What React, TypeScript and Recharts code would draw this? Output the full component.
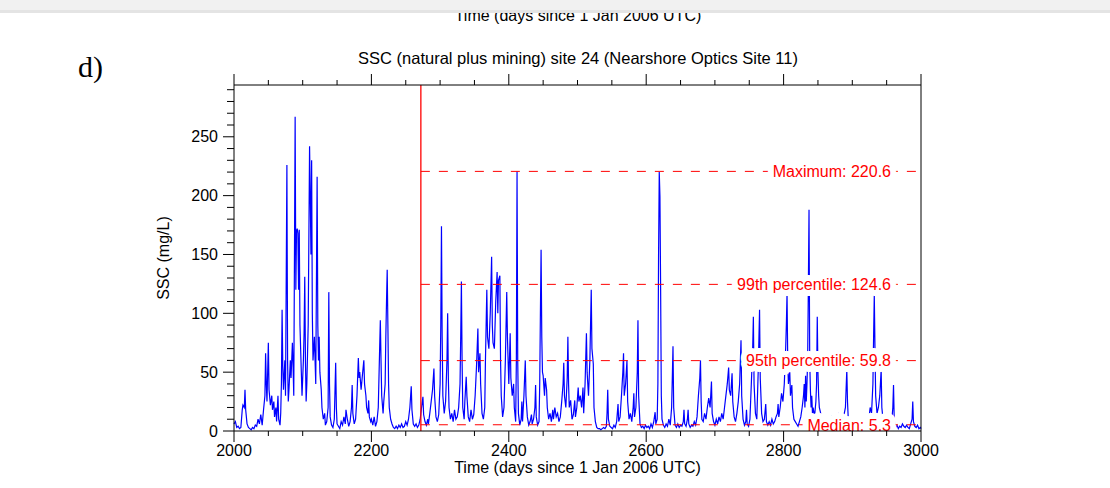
import { Line, LineChart, ReferenceLine, XAxis, YAxis } from 'recharts'

// SSC (mg/L) against day since 1 Jan 2006 as [day, ssc]
const ssc2000: [number, number][] = [
  [2000, 6], [2002, 8], [2004, 3], [2006, 4], [2008, 2], [2010, 3], [2012, 18], [2013, 22], [2015, 20], [2016, 35],
  [2017, 18], [2019, 6], [2021, 3], [2023, 2], [2025, 1], [2027, 3], [2029, 2], [2031, 5], [2033, 4], [2035, 10],
  [2037, 6], [2039, 14], [2041, 5], [2043, 18], [2045, 30], [2046, 66], [2047, 40], [2048, 25], [2050, 75], [2051, 35],
  [2053, 22], [2055, 30], [2056, 18], [2058, 25], [2059, 12], [2061, 20], [2062, 8], [2064, 30], [2065, 10], [2067, 5],
  [2068, 15], [2069, 40], [2070, 103], [2071, 55], [2072, 35], [2074, 60], [2075, 30], [2077, 226], [2078, 60], [2079, 25],
  [2080, 35], [2082, 60], [2083, 45], [2085, 75], [2086, 55], [2087, 30], [2089, 267], [2090, 120], [2091, 170], [2092, 172],
  [2093, 168], [2094, 120], [2095, 171], [2096, 90], [2098, 50], [2099, 30], [2101, 60], [2102, 83], [2103, 131], [2104, 60],
  [2105, 25], [2106, 40], [2108, 90], [2110, 242], [2111, 200], [2112, 150], [2113, 230], [2114, 100], [2115, 60], [2117, 80],
  [2119, 40], [2121, 216], [2122, 90], [2123, 60], [2124, 80], [2125, 50], [2127, 35], [2128, 20], [2130, 10], [2132, 15],
  [2133, 5], [2135, 8], [2137, 20], [2138, 118], [2139, 40], [2140, 12], [2142, 5], [2144, 3], [2146, 10], [2148, 58],
  [2149, 20], [2150, 6], [2152, 4], [2154, 2], [2156, 8], [2158, 5], [2160, 12], [2162, 6], [2163, 18], [2165, 10],
  [2167, 4], [2169, 8], [2171, 20], [2172, 39], [2173, 15], [2175, 6], [2177, 10], [2179, 30], [2181, 62], [2182, 45],
  [2183, 50], [2185, 35], [2187, 48], [2189, 60], [2190, 40], [2192, 30], [2193, 20], [2195, 15], [2196, 26], [2197, 12],
  [2199, 8],
]

const ssc2200: [number, number][] = [
  [2200, 10], [2202, 5], [2204, 12], [2206, 4], [2208, 8], [2210, 20], [2211, 45], [2212, 70], [2213, 94], [2214, 60],
  [2215, 30], [2217, 15], [2218, 25], [2220, 40], [2221, 80], [2222, 110], [2223, 137], [2224, 90], [2225, 40], [2226, 20],
  [2228, 10], [2230, 6], [2232, 3], [2234, 2], [2236, 4], [2238, 2], [2240, 5], [2242, 3], [2244, 6], [2246, 3],
  [2248, 4], [2250, 8], [2252, 5], [2254, 10], [2256, 20], [2258, 38], [2259, 18], [2261, 6], [2263, 4], [2265, 6],
  [2267, 3], [2269, 5], [2271, 10], [2273, 20], [2275, 29], [2276, 14], [2278, 8], [2280, 5], [2282, 10], [2283, 6],
  [2285, 15], [2287, 25], [2289, 35], [2291, 53], [2292, 30], [2294, 12], [2296, 8], [2298, 14], [2300, 40], [2301, 90],
  [2302, 174], [2303, 80], [2304, 30], [2306, 15], [2308, 25], [2310, 60], [2311, 100], [2312, 45], [2313, 20], [2315, 10],
  [2317, 15], [2319, 8], [2321, 18], [2323, 10], [2325, 12], [2327, 20], [2329, 40], [2330, 80], [2331, 127], [2332, 60],
  [2333, 20], [2335, 10], [2336, 25], [2338, 46], [2339, 30], [2341, 12], [2343, 8], [2345, 18], [2347, 10], [2349, 14],
  [2351, 30], [2353, 55], [2355, 87], [2356, 50], [2358, 66], [2359, 40], [2361, 15], [2363, 10], [2365, 20], [2366, 60],
  [2368, 120], [2369, 80], [2371, 70], [2373, 100], [2375, 148], [2376, 90], [2377, 75], [2379, 70], [2381, 110], [2383, 135],
  [2384, 100], [2385, 128], [2387, 132], [2388, 60], [2389, 30], [2391, 12], [2393, 20], [2395, 60], [2397, 118], [2398, 80],
  [2400, 40],
]

const ssc2400: [number, number][] = [
  [2402, 83], [2403, 45], [2405, 30], [2407, 40], [2408, 20], [2410, 8], [2411, 60], [2412, 220.6], [2413, 60], [2414, 15],
  [2416, 5], [2418, 10], [2419, 25], [2420, 8], [2422, 30], [2424, 60], [2425, 30], [2427, 12], [2429, 5], [2431, 8],
  [2433, 14], [2434, 6], [2436, 10], [2438, 20], [2439, 39], [2440, 12], [2442, 5], [2444, 8], [2445, 40], [2446, 100],
  [2447, 154], [2448, 80], [2449, 50], [2450, 47], [2452, 30], [2453, 45], [2455, 35], [2456, 20], [2458, 10], [2460, 15],
  [2462, 8], [2464, 18], [2465, 10], [2467, 20], [2469, 12], [2471, 15], [2473, 8], [2475, 12], [2477, 25], [2479, 40],
  [2480, 58], [2481, 30], [2483, 20], [2485, 45], [2486, 80], [2487, 40], [2488, 20], [2490, 26], [2492, 10], [2494, 14],
  [2496, 26], [2497, 12], [2499, 20], [2501, 37], [2502, 25], [2504, 30], [2506, 20], [2508, 37], [2509, 15], [2511, 40],
  [2513, 83], [2514, 50], [2516, 30], [2518, 60], [2520, 120], [2521, 70], [2523, 57], [2524, 20], [2526, 8], [2528, 3],
  [2530, 2], [2532, 2], [2534, 1], [2536, 2], [2538, 3], [2540, 2], [2542, 4], [2543, 15], [2544, 35], [2545, 10],
  [2547, 4], [2549, 3], [2551, 2], [2553, 5], [2555, 3], [2557, 8], [2559, 23], [2560, 8], [2562, 12], [2564, 30],
  [2566, 50], [2567, 66], [2568, 30], [2570, 40], [2572, 60], [2573, 25], [2575, 10], [2577, 15], [2579, 8], [2581, 20],
  [2582, 32], [2583, 12], [2585, 20], [2587, 50], [2588, 94], [2589, 30], [2591, 6], [2593, 3], [2595, 4], [2597, 2],
  [2599, 5],
]

const ssc2600: [number, number][] = [
  [2601, 3], [2603, 4], [2605, 2], [2607, 6], [2609, 3], [2611, 8], [2613, 16], [2614, 6], [2616, 10], [2617, 40],
  [2618, 150], [2619, 220], [2620, 199], [2621, 120], [2622, 30], [2623, 10], [2625, 5], [2627, 3], [2629, 6], [2631, 4],
  [2633, 10], [2635, 5], [2637, 20], [2638, 45], [2639, 72], [2640, 20], [2642, 5], [2644, 3], [2646, 6], [2648, 3],
  [2650, 5], [2652, 4], [2654, 8], [2655, 18], [2656, 6], [2658, 4], [2660, 10], [2661, 18], [2662, 6], [2664, 3],
  [2666, 5], [2668, 4], [2670, 8], [2672, 5], [2674, 12], [2676, 30], [2678, 45], [2679, 60], [2680, 25], [2681, 10],
  [2683, 8], [2685, 15], [2687, 10], [2689, 20], [2691, 28], [2693, 20], [2695, 42], [2696, 15], [2698, 8], [2700, 5],
  [2702, 10], [2704, 6], [2706, 12], [2708, 8], [2710, 15], [2712, 10], [2714, 20], [2716, 30], [2718, 40], [2720, 54],
  [2721, 35], [2723, 30], [2725, 49], [2726, 25], [2728, 12], [2730, 8], [2732, 15], [2734, 25], [2736, 40], [2738, 77],
  [2739, 30], [2741, 10], [2743, 5], [2745, 8], [2746, 18], [2747, 6], [2749, 4], [2751, 10], [2753, 40], [2755, 70],
  [2756, 97], [2757, 40], [2759, 15], [2761, 10], [2763, 50], [2765, 103], [2766, 45], [2768, 15], [2770, 8], [2772, 10],
  [2774, 23], [2775, 8], [2777, 5], [2779, 8], [2781, 5], [2783, 10], [2785, 6], [2787, 8], [2789, 12], [2791, 15],
  [2792, 23], [2793, 12], [2795, 20], [2797, 32], [2799, 25],
]

const ssc2800: [number, number][] = [
  [2801, 40], [2803, 70], [2804, 90], [2805, 117], [2806, 60], [2807, 40], [2809, 50], [2810, 30], [2812, 39], [2813, 20],
  [2815, 10], [2817, 8], [2819, 6], [2821, 4], [2823, 8], [2825, 12], [2827, 20], [2829, 30], [2830, 40], [2831, 20],
  [2832, 47], [2833, 25], [2834, 40], [2835, 60], [2836, 120], [2837, 188], [2838, 60], [2839, 35], [2840, 20], [2841, 30],
  [2842, 15], [2843, 20], [2845, 12], [2847, 25], [2848, 40], [2849, 97], [2850, 50], [2851, 30], [2852, 20], [2854, 15],
  [2856, 10], [2858, 8], [2860, 5], [2862, 8], [2864, 6], [2866, 10], [2868, 8], [2870, 12], [2872, 10], [2874, 8],
  [2876, 12], [2878, 10], [2880, 14], [2882, 10], [2884, 8], [2886, 10], [2888, 14], [2890, 20], [2892, 52], [2893, 25],
  [2894, 12], [2896, 8], [2898, 5], [2900, 4], [2902, 3], [2904, 5], [2906, 4], [2908, 6], [2910, 4], [2912, 3],
  [2914, 5], [2916, 4], [2918, 6], [2920, 5], [2922, 8], [2924, 10], [2926, 20], [2928, 15], [2930, 40], [2931, 80],
  [2932, 116], [2933, 70], [2934, 30], [2936, 15], [2938, 20], [2940, 30], [2942, 52], [2943, 20], [2945, 8], [2947, 3],
  [2949, 2], [2951, 4], [2953, 3], [2955, 2], [2957, 5], [2959, 20], [2960, 39], [2961, 10], [2963, 3], [2965, 5],
  [2967, 2], [2969, 4], [2971, 3], [2973, 6], [2975, 4], [2977, 3], [2979, 5], [2981, 3], [2983, 2], [2985, 6],
  [2987, 10], [2988, 25], [2989, 8], [2991, 4], [2993, 3], [2995, 5], [2997, 2], [2999, 3], [3000, 2],
]

const xTicks = [2000, 2050, 2100, 2150, 2200, 2250, 2300, 2350, 2400, 2450, 2500, 2550, 2600, 2650, 2700, 2750, 2800, 2850, 2900, 2950, 3000]
const yTicks = [0, 10, 20, 30, 40, 50, 60, 70, 80, 90, 100, 110, 120, 130, 140, 150, 160, 170, 180, 190, 200, 210, 220, 230, 240, 250, 260, 270, 280, 290]

const miningStart = 2272
const statValues = [220.6, 124.6, 59.8, 5.3]
const statNames = ['Maximum: 220.6', '99th percentile: 124.6', '95th percentile: 59.8', 'Median: 5.3']

const data = [...ssc2000, ...ssc2200, ...ssc2400, ...ssc2600, ...ssc2800].map(([day, ssc]) => ({ day, ssc }))

const FONT = '"Liberation Sans", Arial, Helvetica, sans-serif'
const RED = '#ff0000'

function XTick({ x, y, payload, side }: any) {
  const major = (payload.value - 2000) % 200 === 0
  const len = major ? 11 : 5
  const dir = side === 'top' ? -1 : 1
  return (
    <g>
      <line x1={x} y1={y} x2={x} y2={y + dir * len} stroke="#000" strokeWidth={1} />
      {side === 'bottom' && major && (
        <text x={x} y={y + 12} dy="0.8em" textAnchor="middle" fontSize={16} fontFamily={FONT} fill="#000">
          {payload.value}
        </text>
      )}
    </g>
  )
}

function YTick({ x, y, payload, side }: any) {
  const major = payload.value % 50 === 0
  const len = major ? 11 : 7
  const dir = side === 'right' ? 1 : -1
  return (
    <g>
      <line x1={x} y1={y} x2={x + dir * len} y2={y} stroke="#000" strokeWidth={1} />
      {side === 'left' && major && (
        <text x={x - 16} y={y} dy="0.35em" textAnchor="end" fontSize={16} fontFamily={FONT} fill="#000">
          {payload.value}
        </text>
      )}
    </g>
  )
}

function StatLabel({ viewBox, text }: any) {
  const right = viewBox.x + viewBox.width - 30
  const cy = viewBox.y
  return (
    <g>
      <text x={right} y={cy} dy="0.36em" textAnchor="end" fontSize={16} fontFamily={FONT}
        fill="#fff" stroke="#fff" strokeWidth={12} strokeLinejoin="round">
        {text}
      </text>
      <text x={right} y={cy} dy="0.36em" textAnchor="end" fontSize={16} fontFamily={FONT} fill={RED}>
        {text}
      </text>
    </g>
  )
}

export default function App() {
  return (
    <div style={{ position: 'fixed', left: 0, top: 0, width: 1110, height: 488, background: '#fff', overflow: 'hidden' }}>
      <LineChart width={1110} height={488} data={data} margin={{ top: 84, right: 188, bottom: 13, left: 154 }}>
        <XAxis xAxisId="b" dataKey="day" type="number" domain={[2000, 3000]} ticks={xTicks} interval={0}
          orientation="bottom" height={44} tickSize={0} tickMargin={0} tickLine={false} stroke="#000"
          tick={<XTick side="bottom" />}
          label={{ value: 'Time (days since 1 Jan 2006 UTC)', position: 'insideBottom', offset: 2, fontSize: 16, fontFamily: FONT, fill: '#000' }} />
        <XAxis xAxisId="t" dataKey="day" type="number" domain={[2000, 3000]} ticks={xTicks} interval={0}
          orientation="top" height={1} tickSize={0} tickMargin={0} tickLine={false} stroke="#000"
          tick={<XTick side="top" />} />
        <YAxis yAxisId="l" type="number" domain={[0, 294]} ticks={yTicks} interval={0}
          orientation="left" width={80} tickSize={0} tickMargin={0} tickLine={false} stroke="#000"
          tick={<YTick side="left" />}
          label={{ value: 'SSC (mg/L)', angle: -90, position: 'insideLeft', offset: 9, fontSize: 16, fontFamily: FONT, fill: '#000', style: { textAnchor: 'middle' } }} />
        <YAxis yAxisId="r" type="number" domain={[0, 294]} ticks={yTicks} interval={0}
          orientation="right" width={1} tickSize={0} tickMargin={0} tickLine={false} stroke="#000"
          tick={<YTick side="right" />} />
        <Line xAxisId="b" yAxisId="l" type="linear" dataKey="ssc" stroke="#0000ff" strokeWidth={1.2}
          dot={false} activeDot={false} isAnimationActive={false} />
        <ReferenceLine xAxisId="b" yAxisId="l" x={miningStart} stroke={RED} strokeWidth={1.3} />
        {statValues.map((v, i) => (
          <ReferenceLine key={statNames[i]} xAxisId="b" yAxisId="l"
            segment={[{ x: miningStart, y: v }, { x: 3000, y: v }]}
            stroke={RED} strokeWidth={1} strokeDasharray="9 9"
            label={<StatLabel text={statNames[i]} />} />
        ))}
      </LineChart>
      <svg width={1110} height={488} style={{ position: 'absolute', left: 0, top: 0, pointerEvents: 'none' }}>
        <text x={578} y={21} textAnchor="middle" fontSize={16} fontFamily={FONT} fill="#000">
          Time (days since 1 Jan 2006 UTC)
        </text>
        <rect x={0} y={0} width={1110} height={10} fill="#f1f1f1" />
        <rect x={0} y={10} width={1110} height={3} fill="#e4e4e4" />
        <text x={78} y={77} fontSize={30} fontFamily='"Liberation Serif", "Times New Roman", serif' fill="#000">d)</text>
        <text x={578} y={64} textAnchor="middle" fontSize={16.5} fontFamily={FONT} fill="#000">
          SSC (natural plus mining) site 24 (Nearshore Optics Site 11)
        </text>
      </svg>
    </div>
  )
}
